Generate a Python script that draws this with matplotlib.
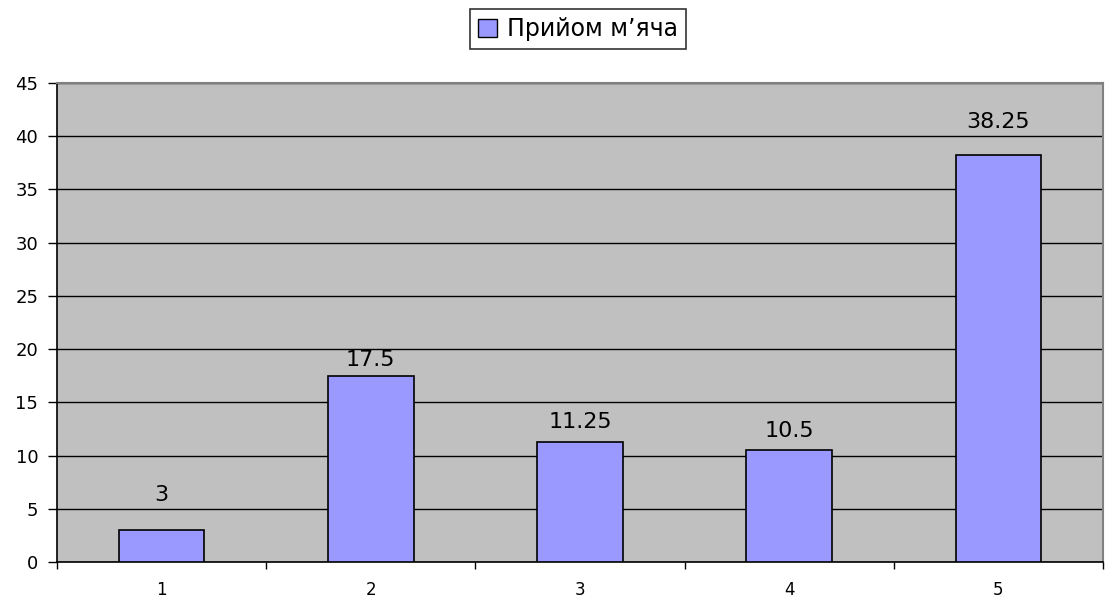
import matplotlib
matplotlib.use("Agg")
import matplotlib.pyplot as plt
from matplotlib.patches import Patch

categories = [1, 2, 3, 4, 5]
values = [3, 17.5, 11.25, 10.5, 38.25]
value_labels = ["3", "17.5", "11.25", "10.5", "38.25"]
series_name = "Прийом м’яча"
y_ticks = [0, 5, 10, 15, 20, 25, 30, 35, 40, 45]

# gap (points) between bar top and label baseline, as placed in the source
label_offsets = [21, 7, 10, 9.5, 19]

plt.rcParams['font.family'] = ['DejaVu Sans']

fig = plt.figure(figsize=(11.06, 5.98), dpi=100)
ax = fig.add_axes([57 / 1106, 1 - 562 / 598, 1046 / 1106, 479 / 598])
ax.set_facecolor("#c0c0c0")

bars = ax.bar(categories, values, width=0.41, color="#9999ff",
              edgecolor="black", linewidth=1.2, zorder=3)
for x, v, lab, off in zip(categories, values, value_labels, label_offsets):
    ax.annotate(lab, (x, v), xytext=(0, off), textcoords="offset points",
                ha="center", va="baseline", fontsize=16, zorder=4)

ax.set_xlim(0.5, 5.5)
ax.set_ylim(0, 45)
ax.set_yticks(y_ticks)
ax.yaxis.grid(True, color="black", linewidth=1.0, zorder=1)
ax.set_axisbelow(True)

ax.set_xticks(categories)
ax.set_xticks([0.5, 1.5, 2.5, 3.5, 4.5, 5.5], minor=True)
ax.tick_params(axis="x", which="major", length=0, labelsize=12, pad=14)
ax.tick_params(axis="x", which="minor", length=5, width=1, direction="out")
ax.tick_params(axis="y", length=6.5, width=1, labelsize=13, pad=7)

for side in ["left", "bottom"]:
    ax.spines[side].set_color("black")
    ax.spines[side].set_linewidth(1.2)
for side in ["top", "right"]:
    ax.spines[side].set_color("#808080")
    ax.spines[side].set_linewidth(1.5)

handle = Patch(facecolor="#9999ff", edgecolor="black", linewidth=1)
leg = fig.legend([handle], [series_name], loc="center", bbox_to_anchor=(578 / 1106, 1 - 29 / 598),
                 frameon=True, fancybox=False, edgecolor="black", fontsize=17,
                 handlelength=0.8, handleheight=0.8, handletextpad=0.4, borderpad=0.35)
leg.get_frame().set_linewidth(1.2)

fig.savefig("out.png", dpi=100)
